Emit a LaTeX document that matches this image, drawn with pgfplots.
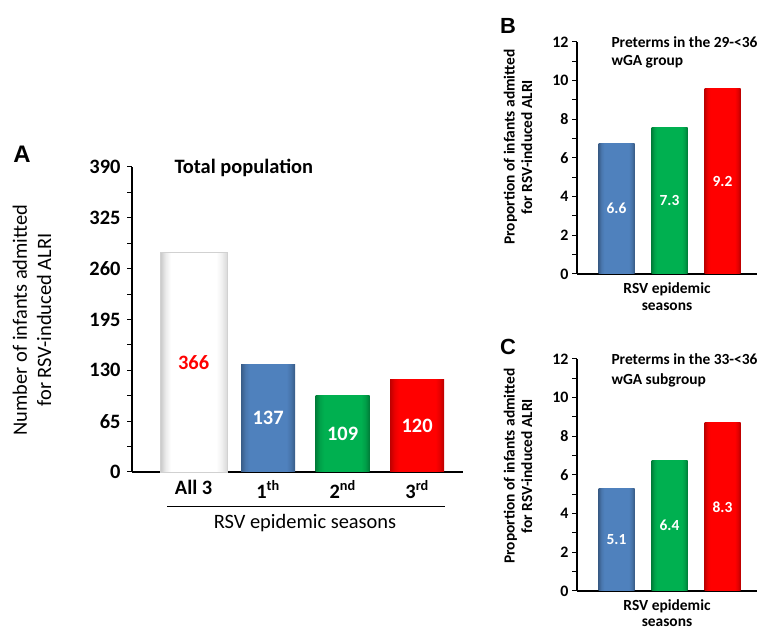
\documentclass[border=0pt]{standalone}
\usepackage{pgfplots}
\pgfplotsset{compat=1.18}
\usepackage{fontspec}
\setmainfont{Carlito}
\newfontfamily\arialf{Liberation Sans}
\definecolor{cblue}{RGB}{79,129,189}
\definecolor{cgreen}{RGB}{0,176,80}
\definecolor{cred}{RGB}{255,0,0}
\pgfdeclarehorizontalshading{sblue}{100bp}{color(0bp)=(cblue!72!black); color(25bp)=(cblue!72!black); color(29bp)=(cblue!92!black); color(33bp)=(cblue); color(67bp)=(cblue); color(71bp)=(cblue!90!black); color(75bp)=(cblue!70!black); color(100bp)=(cblue!70!black)}
\pgfdeclarehorizontalshading{sgreen}{100bp}{color(0bp)=(cgreen!72!black); color(25bp)=(cgreen!72!black); color(29bp)=(cgreen!92!black); color(33bp)=(cgreen); color(67bp)=(cgreen); color(71bp)=(cgreen!90!black); color(75bp)=(cgreen!70!black); color(100bp)=(cgreen!70!black)}
\pgfdeclarehorizontalshading{sred}{100bp}{color(0bp)=(cred!75!black); color(25bp)=(cred!75!black); color(29bp)=(cred!92!black); color(33bp)=(cred); color(67bp)=(cred); color(71bp)=(cred!90!black); color(75bp)=(cred!72!black); color(100bp)=(cred!72!black)}
\pgfdeclarehorizontalshading{swhite}{100bp}{color(0bp)=(black!22); color(25bp)=(black!22); color(29bp)=(black!8); color(33bp)=(white); color(67bp)=(white); color(71bp)=(black!6); color(75bp)=(black!15); color(100bp)=(black!15)}
\pgfplotsset{
  panel/.style={
    scale only axis,
    anchor=south west,
    axis lines=left,
    axis line style={-, line width=1.4bp, black},
    tick align=outside,
    xtick style={draw=none},
    ytick style={line width=1bp, black},
    major tick length=5bp,
    minor tick length=5bp,
    minor y tick num=1,
    /pgf/number format/assume math mode=true,
    clip=false,
    point meta=explicit symbolic,
    nodes near coords,
    visualization depends on=rawy \as \rawy,
    every node near coord/.append style={anchor=center, text=white, shift={(axis direction cs:0,-\rawy/2)}},
  },
  bar/.style={ybar, bar shift=0pt, draw=none, shading=#1},
}
\begin{document}
\begin{tikzpicture}[x=1bp,y=1bp]
\useasboundingbox (0,0) rectangle (759,629);
% ---------------- Panel A
\begin{axis}[panel,
  at={(132bp,157bp)}, width=331bp, height=305bp,
  xmin=-0.827, xmax=3.616, ymin=0, ymax=390,
  ytick={0,65,130,195,260,325,390},
  xtick={0,1,2,3},
  xticklabels={All 3,1\textsuperscript{th},2\textsuperscript{nd},3\textsuperscript{rd}},
  ticklabel style={font=\fontsize{20.5}{24}\selectfont\bfseries},
  yticklabel style={xshift=-3bp},
  every node near coord/.append style={font=\fontsize{20.5}{24}\selectfont\bfseries},
]
\addplot[bar=swhite, bar width=67bp, draw=black!18, every node near coord/.append style={text=cred}] coordinates {(0,281) [366]};
\addplot[bar=sblue, bar width=54bp] coordinates {(1,138) [137]};
\addplot[bar=sgreen, bar width=54bp] coordinates {(2,98) [109]};
\addplot[bar=sred, bar width=54bp] coordinates {(3,118) [120]};
\end{axis}
\node[font=\arialf\fontsize{24}{28}\selectfont\bfseries] at (22,475) {A};
\node[rotate=90, align=center, font=\fontsize{20.5}{24.5}\selectfont] at (32,309) {Number of infants admitted\\for RSV-induced ALRI};
\node[anchor=west, font=\fontsize{20.5}{24}\selectfont\bfseries] at (171,461) {Total population};
\draw[line width=0.9bp] (167,123) -- (445,123);
\node[font=\fontsize{20.5}{24}\selectfont] at (305,106) {RSV epidemic seasons};
% ---------------- Panel B
\begin{axis}[panel,
  at={(577bp,355bp)}, width=180bp, height=232bp,
  xmin=-0.745, xmax=2.651, ymin=0, ymax=12,
  ytick={0,2,...,12}, xtick=\empty,
  ticklabel style={font=\fontsize{16}{18}\selectfont\bfseries},
  every node near coord/.append style={font=\fontsize{15.5}{18}\selectfont\bfseries},
]
\addplot[bar=sblue, bar width=36bp] coordinates {(0,6.75) [6.6]};
\addplot[bar=sgreen, bar width=36bp] coordinates {(1,7.6) [7.3]};
\addplot[bar=sred, bar width=36bp] coordinates {(2,9.6) [9.2]};
\end{axis}
\node[font=\arialf\fontsize{22}{26}\selectfont\bfseries] at (508,603) {B};
\node[rotate=90, align=center, font=\fontsize{15.5}{17.5}\selectfont\bfseries] at (518,482) {Proportion of infants admitted\\for RSV-induced ALRI};
\node[anchor=base west, font=\fontsize{15.5}{18}\selectfont\bfseries] at (608,581) {Preterms in the 29-<36};
\node[anchor=base west, font=\fontsize{15.5}{18}\selectfont\bfseries] at (608,563) {wGA group};
\node[font=\fontsize{15.5}{18}\selectfont\bfseries] at (667,340) {RSV epidemic};
\node[font=\fontsize{15.5}{18}\selectfont\bfseries] at (667,322) {seasons};
% ---------------- Panel C
\begin{axis}[panel,
  at={(577bp,38bp)}, width=180bp, height=232bp,
  xmin=-0.745, xmax=2.651, ymin=0, ymax=12,
  ytick={0,2,...,12}, xtick=\empty,
  ticklabel style={font=\fontsize{16}{18}\selectfont\bfseries},
  every node near coord/.append style={font=\fontsize{15.5}{18}\selectfont\bfseries},
]
\addplot[bar=sblue, bar width=36bp] coordinates {(0,5.3) [5.1]};
\addplot[bar=sgreen, bar width=36bp] coordinates {(1,6.75) [6.4]};
\addplot[bar=sred, bar width=36bp] coordinates {(2,8.7) [8.3]};
\end{axis}
\node[font=\arialf\fontsize{22}{26}\selectfont\bfseries] at (508,282) {C};
\node[rotate=90, align=center, font=\fontsize{15.5}{17.5}\selectfont\bfseries] at (518,163) {Proportion of infants admitted\\for RSV-induced ALRI};
\node[anchor=base west, font=\fontsize{15.5}{18}\selectfont\bfseries] at (608,264) {Preterms in the 33-<36};
\node[anchor=base west, font=\fontsize{15.5}{18}\selectfont\bfseries] at (608,244) {wGA subgroup};
\node[font=\fontsize{15.5}{18}\selectfont\bfseries] at (667,23) {RSV epidemic};
\node[font=\fontsize{15.5}{18}\selectfont\bfseries] at (667,6.5) {seasons};
\end{tikzpicture}
\end{document}
